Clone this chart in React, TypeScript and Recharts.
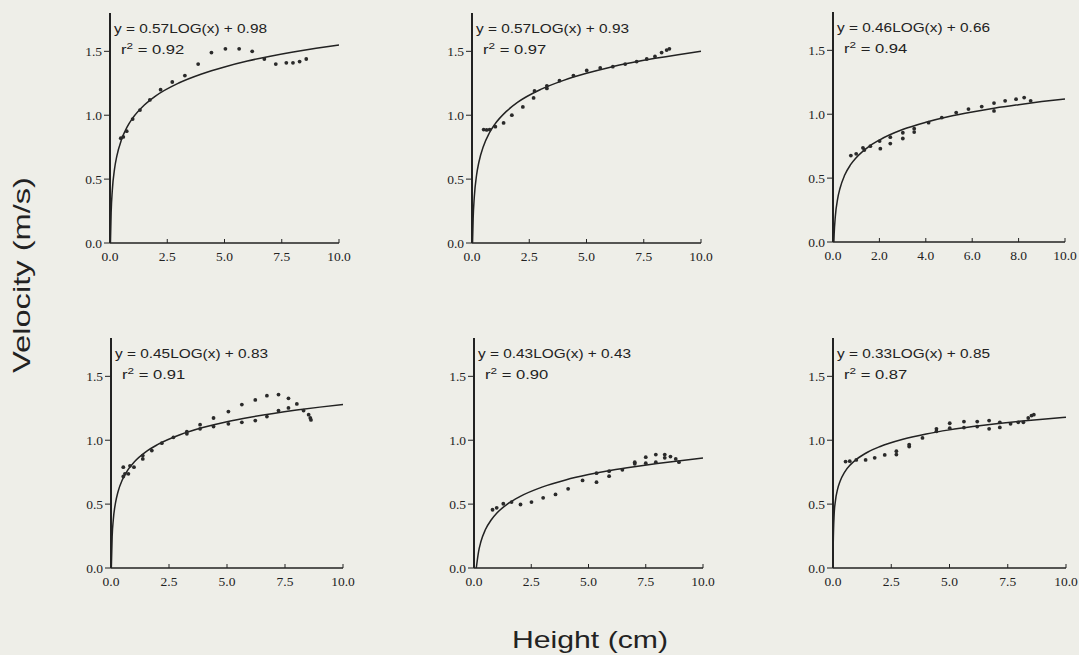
import { ComposedChart, Line, Scatter, XAxis, YAxis } from "recharts";

type Pt = [number, number];

// tick values
const xTicksQuarter = [0, 2.5, 5, 7.5, 10];
const xTicksEven = [0, 2, 4, 6, 8, 10];
const yTicks = [0, 0.5, 1, 1.5];

// fit labels
const equations = [
  "y = 0.57LOG(x) + 0.98",
  "y = 0.57LOG(x) + 0.93",
  "y = 0.46LOG(x) + 0.66",
  "y = 0.45LOG(x) + 0.83",
  "y = 0.43LOG(x) + 0.43",
  "y = 0.33LOG(x) + 0.85",
];
const rSquared = ["0.92", "0.97", "0.94", "0.91", "0.90", "0.87"];

// measured points (height cm, velocity m/s)
const pointsA: Pt[] = [
  [0.47, 0.82], [0.58, 0.83], [0.73, 0.875], [0.99, 0.97], [1.31, 1.04], [1.74, 1.12],
  [2.21, 1.2], [2.72, 1.26], [3.27, 1.31], [3.85, 1.4], [4.43, 1.49], [5.04, 1.52],
  [5.64, 1.52], [6.21, 1.5], [6.74, 1.44], [7.24, 1.4], [7.7, 1.41], [7.99, 1.41],
  [8.28, 1.42], [8.57, 1.44],
];
const pointsB: Pt[] = [
  [0.51, 0.888], [0.64, 0.885], [0.77, 0.888], [1.02, 0.91], [1.38, 0.94], [1.74, 1.0],
  [2.22, 1.065], [2.69, 1.135], [2.73, 1.19], [3.27, 1.21], [3.27, 1.23], [3.82, 1.27],
  [4.43, 1.31], [5.01, 1.35], [5.6, 1.37], [6.15, 1.38], [6.69, 1.4], [7.19, 1.42],
  [7.63, 1.44], [7.99, 1.46], [8.28, 1.49], [8.5, 1.51], [8.62, 1.52],
];
const pointsC: Pt[] = [
  [0.77, 0.676], [1.0, 0.69], [1.29, 0.737], [1.35, 0.72], [1.61, 0.75], [2.01, 0.79],
  [2.04, 0.73], [2.47, 0.82], [2.47, 0.77], [3.01, 0.855], [3.01, 0.81], [3.5, 0.887],
  [3.5, 0.86], [4.12, 0.934], [4.69, 0.974], [5.31, 1.013], [5.84, 1.04], [6.41, 1.06],
  [6.94, 1.087], [6.94, 1.026], [7.42, 1.105], [7.89, 1.118], [8.24, 1.13], [8.52, 1.105],
];
const pointsD: Pt[] = [
  [0.53, 0.716], [0.6, 0.737], [0.53, 0.789], [0.75, 0.737], [0.82, 0.8], [0.99, 0.789],
  [1.37, 0.88], [1.37, 0.854], [1.76, 0.919], [2.19, 0.977], [2.69, 1.023], [3.27, 1.068],
  [3.27, 1.05], [3.84, 1.089], [3.84, 1.122], [4.42, 1.107], [4.42, 1.174], [5.06, 1.128],
  [5.06, 1.224], [5.64, 1.14], [5.64, 1.279], [6.22, 1.154], [6.22, 1.315], [6.72, 1.185],
  [6.72, 1.349], [7.22, 1.232], [7.22, 1.357], [7.65, 1.253], [7.65, 1.328], [8.01, 1.284],
  [8.3, 1.232], [8.52, 1.2], [8.59, 1.174], [8.62, 1.159],
];
const pointsE: Pt[] = [
  [0.81, 0.456], [0.99, 0.471], [1.28, 0.503], [1.64, 0.516], [2.03, 0.497], [2.51, 0.516],
  [3.02, 0.549], [3.56, 0.576], [4.11, 0.62], [4.74, 0.685], [5.35, 0.672], [5.35, 0.742],
  [5.9, 0.719], [5.9, 0.758], [6.48, 0.768], [7.02, 0.815], [7.02, 0.828], [7.5, 0.82],
  [7.5, 0.867], [7.94, 0.828], [7.94, 0.888], [8.33, 0.862], [8.33, 0.888], [8.58, 0.872],
  [8.81, 0.854], [8.95, 0.828],
];
const pointsF: Pt[] = [
  [0.54, 0.833], [0.72, 0.836], [1.0, 0.846], [1.4, 0.846], [1.79, 0.862], [2.22, 0.885],
  [2.72, 0.888], [2.72, 0.914], [3.27, 0.951], [3.27, 0.966], [3.84, 1.018], [4.44, 1.07],
  [4.44, 1.089], [5.01, 1.094], [5.01, 1.133], [5.62, 1.099], [5.62, 1.146], [6.19, 1.107],
  [6.19, 1.146], [6.7, 1.089], [6.7, 1.154], [7.16, 1.1], [7.16, 1.14], [7.62, 1.128],
  [7.95, 1.14], [8.17, 1.14], [8.38, 1.174], [8.52, 1.193], [8.62, 1.2],
];

// fitted curves
const curveA: Pt[] = [
  [0.019, 0], [0.05, 0.238], [0.1, 0.41], [0.2, 0.582], [0.3, 0.682], [0.5, 0.808],
  [0.75, 0.909], [1, 0.98], [1.5, 1.08], [2, 1.152], [3, 1.252], [4, 1.323], [5, 1.378],
  [6, 1.424], [7, 1.462], [8, 1.495], [9, 1.524], [10, 1.55],
];
const curveB: Pt[] = [
  [0.023, 0], [0.05, 0.188], [0.1, 0.36], [0.2, 0.532], [0.3, 0.632], [0.5, 0.758],
  [0.75, 0.859], [1, 0.93], [1.5, 1.03], [2, 1.102], [3, 1.202], [4, 1.273], [5, 1.328],
  [6, 1.374], [7, 1.412], [8, 1.445], [9, 1.474], [10, 1.5],
];
const curveC: Pt[] = [
  [0.037, 0], [0.05, 0.062], [0.1, 0.2], [0.2, 0.338], [0.3, 0.419], [0.5, 0.522],
  [0.75, 0.603], [1, 0.66], [1.5, 0.741], [2, 0.798], [3, 0.88], [4, 0.937], [5, 0.982],
  [6, 1.018], [7, 1.049], [8, 1.075], [9, 1.099], [10, 1.12],
];
const curveD: Pt[] = [
  [0.014, 0], [0.05, 0.245], [0.1, 0.38], [0.2, 0.515], [0.3, 0.595], [0.5, 0.695],
  [0.75, 0.774], [1, 0.83], [1.5, 0.909], [2, 0.965], [3, 1.045], [4, 1.101], [5, 1.145],
  [6, 1.18], [7, 1.21], [8, 1.236], [9, 1.259], [10, 1.28],
];
const curveE: Pt[] = [
  [0.1, 0], [0.2, 0.129], [0.3, 0.205], [0.5, 0.301], [0.75, 0.376], [1, 0.43],
  [1.5, 0.506], [2, 0.559], [3, 0.635], [4, 0.689], [5, 0.731], [6, 0.765], [7, 0.793],
  [8, 0.818], [9, 0.84], [10, 0.86],
];
const curveF: Pt[] = [
  [0.003, 0], [0.01, 0.19], [0.05, 0.421], [0.1, 0.52], [0.2, 0.619], [0.3, 0.677],
  [0.5, 0.751], [0.75, 0.809], [1, 0.85], [1.5, 0.908], [2, 0.949], [3, 1.007], [4, 1.049],
  [5, 1.081], [6, 1.107], [7, 1.129], [8, 1.148], [9, 1.165], [10, 1.18],
];

const toRows = (pts: Pt[]) => pts.map(([x, y]) => ({ x, y }));

// layout of each plot area on the page
const layout = [
  { left: 110, top: 13, w: 229 },
  { left: 472, top: 13, w: 229 },
  { left: 833, top: 12, w: 232 },
  { left: 111, top: 338, w: 232 },
  { left: 474, top: 338, w: 229 },
  { left: 833, top: 338, w: 233 },
];
const PLOT_H = 230;
const YW = 40;
const XH = 30;
const MT = 6;
const MR = 16;
const INK = "#222";
const BG = "#eeeee8";
const SERIF = "'Liberation Serif', 'DejaVu Serif', serif";
const SANS = "'Liberation Sans', Arial, sans-serif";

const XTick = (props: any) => {
  const { x, y, payload } = props;
  return (
    <g>
      <line x1={x} y1={y} x2={x} y2={y - 4} stroke={INK} strokeWidth={1} />
      <text x={x} y={y + 18} textAnchor="middle" fontFamily={SERIF} fontSize={13.5} fill={INK}>
        {Number(payload.value).toFixed(1)}
      </text>
    </g>
  );
};

const YTick = (props: any) => {
  const { x, y, payload } = props;
  return (
    <g>
      <line x1={x - 6} y1={y} x2={x} y2={y} stroke={INK} strokeWidth={1} />
      <text x={x - 8} y={y + 4.5} textAnchor="end" fontFamily={SERIF} fontSize={13.5} fill={INK}>
        {Number(payload.value).toFixed(1)}
      </text>
    </g>
  );
};

const Dot = (props: any) => <circle cx={props.cx} cy={props.cy} r={1.9} fill="#2a2a2a" />;

const Panel = ({ idx, points, curve, ticks }: { idx: number; points: Pt[]; curve: Pt[]; ticks: number[] }) => {
  const L = layout[idx];
  const width = YW + L.w + MR;
  const height = MT + PLOT_H + XH;
  return (
    <div style={{ position: "absolute", left: L.left - YW, top: L.top - MT, width, height }}>
      <ComposedChart width={width} height={height} margin={{ top: MT, right: MR, bottom: 0, left: 0 }}>
        <XAxis
          type="number"
          dataKey="x"
          domain={[0, 10]}
          ticks={ticks}
          interval={0}
          height={XH}
          tickSize={0}
          tickMargin={0}
          tickLine={false}
          tick={<XTick />}
          axisLine={{ stroke: INK, strokeWidth: 1.5 }}
        />
        <YAxis
          type="number"
          dataKey="y"
          domain={[0, 1.8]}
          ticks={yTicks}
          interval={0}
          width={YW}
          tickSize={0}
          tickMargin={0}
          tickLine={false}
          tick={<YTick />}
          axisLine={{ stroke: INK, strokeWidth: 2 }}
        />
        <Line
          data={toRows(curve)}
          dataKey="y"
          type="monotone"
          stroke={INK}
          strokeWidth={1.5}
          dot={false}
          activeDot={false}
          isAnimationActive={false}
        />
        <Scatter data={toRows(points)} dataKey="y" shape={<Dot />} isAnimationActive={false} />
      </ComposedChart>
    </div>
  );
};

const App = () => {
  const panels = [
    { points: pointsA, curve: curveA, ticks: xTicksQuarter },
    { points: pointsB, curve: curveB, ticks: xTicksQuarter },
    { points: pointsC, curve: curveC, ticks: xTicksEven },
    { points: pointsD, curve: curveD, ticks: xTicksQuarter },
    { points: pointsE, curve: curveE, ticks: xTicksQuarter },
    { points: pointsF, curve: curveF, ticks: xTicksQuarter },
  ];
  return (
    <div style={{ position: "absolute", left: 0, top: 0, width: 1079, height: 655, background: BG, overflow: "hidden" }}>
      {panels.map((p, i) => (
        <Panel key={i} idx={i} points={p.points} curve={p.curve} ticks={p.ticks} />
      ))}
      <svg width={1079} height={655} style={{ position: "absolute", left: 0, top: 0, pointerEvents: "none" }}>
        {layout.map((L, i) => (
          <g key={i} fontFamily={SANS} fill={INK}>
            <text x={L.left + 4} y={L.top + 20} fontSize={12} textLength={153} lengthAdjust="spacingAndGlyphs">
              {equations[i]}
            </text>
            <g transform={`translate(${L.left + 11}, ${L.top + 40.5}) scale(1.38, 1)`}>
              <text x={0} y={0} fontSize={12}>
                r
                <tspan dy={-5} fontSize={8.5}>2</tspan>
                <tspan dy={5}>{` = ${rSquared[i]}`}</tspan>
              </text>
            </g>
          </g>
        ))}
        <text x={512} y={648} fontFamily={SANS} fontSize={24} fill={INK} textLength={156} lengthAdjust="spacingAndGlyphs">
          Height  (cm)
        </text>
        <text
          x={275}
          y={0}
          transform="translate(30, 550) rotate(-90)"
          textAnchor="middle"
          fontFamily={SANS}
          fontSize={24}
          fill={INK}
          textLength={196}
          lengthAdjust="spacingAndGlyphs"
        >
          Velocity  (m/s)
        </text>
      </svg>
    </div>
  );
};

export default App;
